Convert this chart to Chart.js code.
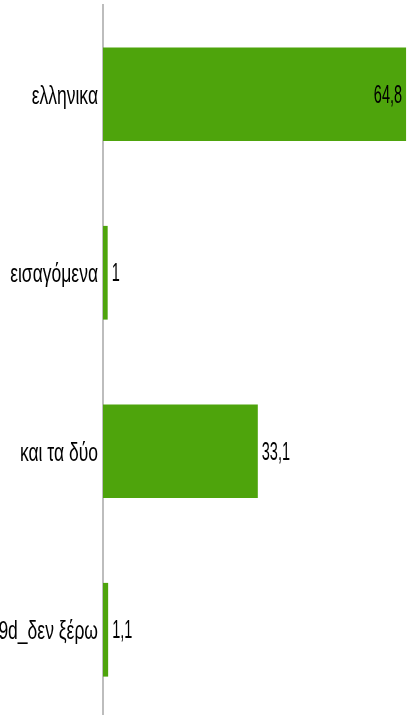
<!DOCTYPE html>
<html>
<head>
<meta charset="utf-8">
<script src="https://cdn.jsdelivr.net/npm/chart.js@4/dist/chart.umd.min.js"></script>
<style>
  html, body { margin: 0; padding: 0; background: #fff; overflow: hidden; }
  #wrap { position: absolute; left: 0; top: 0; width: 407px; height: 719px; }
</style>
</head>
<body>
<div id="wrap"><canvas id="chart"></canvas></div>
<script>
const categories = ['ελληνικα', 'εισαγόμενα', 'και τα δύο', '99d_δεν ξέρω'];
const values = [64.8, 1, 33.1, 1.1];
const xMax = 65;

const barColor = '#4ea40c';
const textColor = '#000000';
const labelFont = '25px "Liberation Sans", Arial, sans-serif';
const catScaleX = 0.7;
const valScaleX = 0.58;

function fmt(v) {
    return String(v).replace('.', ',');
}

// narrow text, like the condensed labels of the reference
function drawText(ctx, text, x, baseline, align, sx) {
    ctx.save();
    ctx.translate(x, baseline);
    ctx.scale(sx, 1);
    ctx.textAlign = align;
    ctx.textBaseline = 'alphabetic';
    ctx.fillText(text, 0, 0);
    ctx.restore();
}

const labelsPlugin = {
    id: 'labels',
    afterDatasetsDraw(chart) {
        const ctx = chart.ctx;
        const meta = chart.getDatasetMeta(0);
        const area = chart.chartArea;
        ctx.save();
        ctx.font = labelFont;
        ctx.fillStyle = textColor;
        meta.data.forEach((bar, i) => {
            drawText(ctx, categories[i], area.left - 5, bar.y + 9.5, 'right', catScaleX);
            const txt = fmt(values[i]);
            const w = ctx.measureText(txt).width * valScaleX;
            if (bar.x + 4 + w > chart.width) {
                drawText(ctx, txt, bar.x - 4, bar.y + 8.5, 'right', valScaleX);
            } else {
                drawText(ctx, txt, bar.x + 4, bar.y + 8.5, 'left', valScaleX);
            }
        });
        ctx.restore();
    }
};

new Chart(document.getElementById('chart'), {
    type: 'bar',
    data: {
        labels: categories,
        datasets: [{
            data: values,
            backgroundColor: barColor,
            borderWidth: 0,
            categoryPercentage: 1,
            barPercentage: 0.525
        }]
    },
    options: {
        indexAxis: 'y',
        responsive: true,
        maintainAspectRatio: false,
        animation: false,
        layout: { padding: { top: 5, right: 0, bottom: 0, left: 0 } },
        plugins: {
            legend: { display: false },
            tooltip: { enabled: false }
        },
        scales: {
            x: {
                display: false,
                min: 0,
                max: xMax
            },
            y: {
                grid: { display: false, drawTicks: false },
                border: { display: true, color: '#bdbdbd', width: 2 },
                ticks: { display: false },
                afterFit: s => { s.width = 103; }
            }
        }
    },
    plugins: [labelsPlugin]
});
</script>
</body>
</html>
